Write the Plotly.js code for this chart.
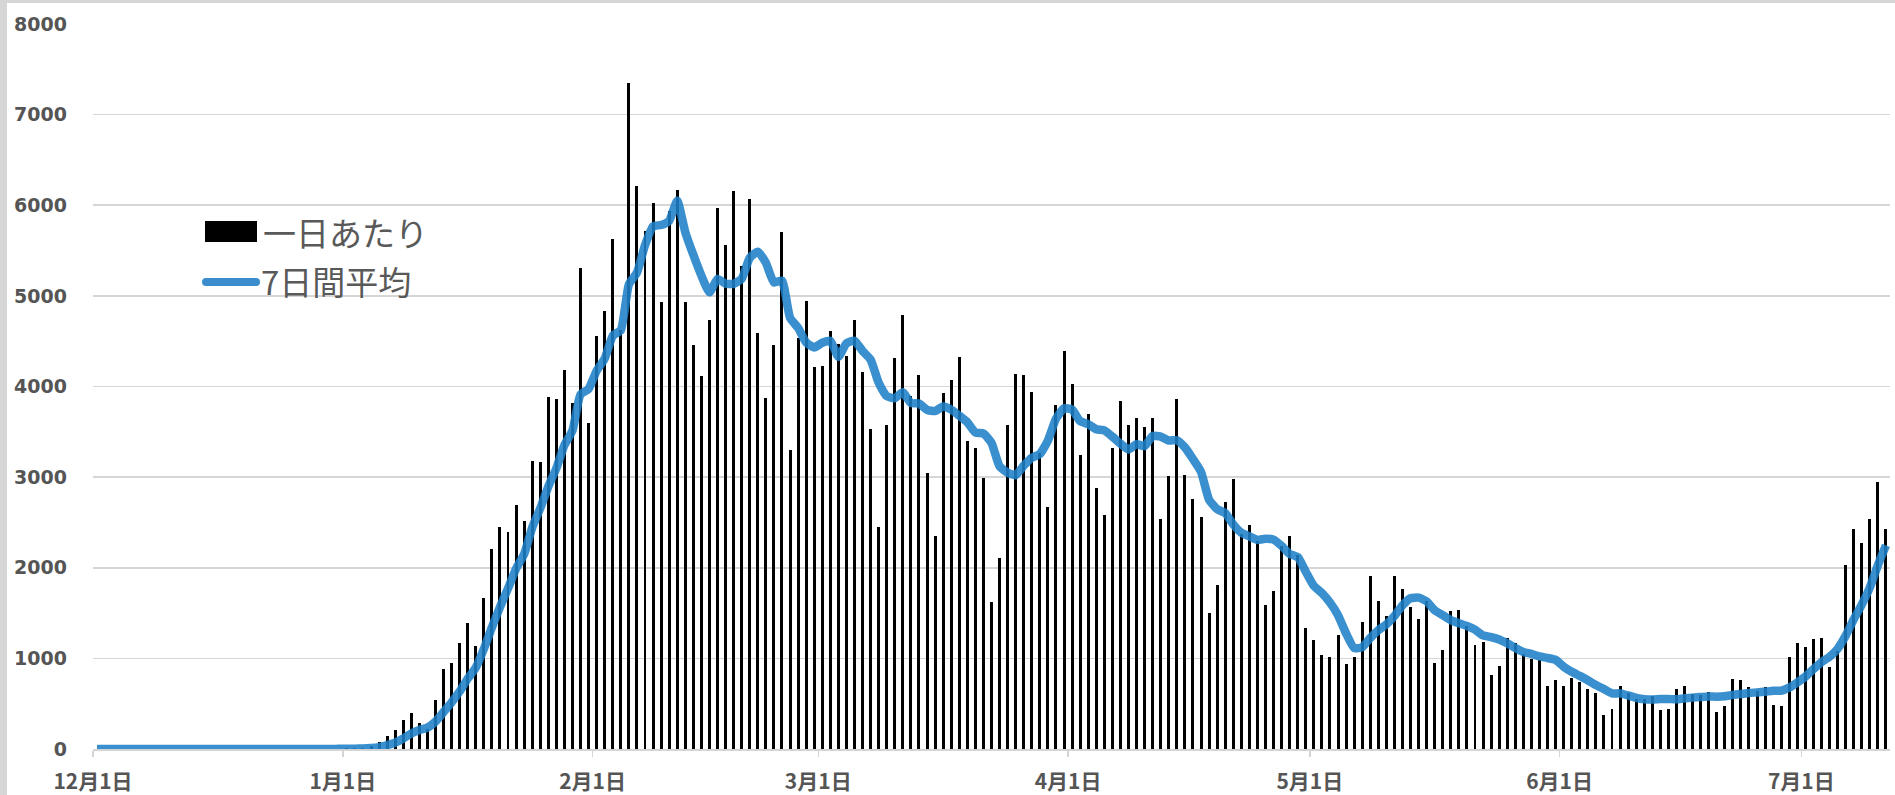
<!DOCTYPE html>
<html><head><meta charset="utf-8">
<script src="https://cdn.plot.ly/plotly-3.0.1.min.js"></script>
<style>
html,body{margin:0;padding:0;width:1895px;height:795px;overflow:hidden;background:#d6d6d6;}
#chart{position:absolute;left:7px;top:3px;width:1888px;height:792px;background:#fff;}
</style></head><body><div id="chart"></div>
<script>
// Daily counts (一日あたり), by month
const decDaily = [0,0,1,0,0,0,0,0,1,0,0,0,0,0,1,0,0,0,0,0,0,0,0,0,0,0,2,1,1,3,4];
const janDaily = [8,10,15,36,72,147,206,323,397,287,222,537,882,948,1169,1390,1132,1665,2206,2448,2397,2687,2518,3173,3165,3882,3864,4184,3816,5305,3598];
const febDaily = [4559,4829,5623,4622,7352,6210,5718,6021,4930,5940,6172,4931,4460,4111,4729,5974,5559,6162,5326,6071,4592,3868,4455,5701,3301,4536,4947,4212];
const marDaily = [4222,4612,4466,4339,4734,4162,3529,2445,3575,4313,4793,3900,4126,3050,2348,3926,4069,4327,3398,3320,2985,1625,2113,3573,4143,4126,3934,3268,2666,3799,4387];
const aprDaily = [4026,3241,3699,2876,2579,3320,3843,3573,3655,3551,3655,2536,3015,3862,3022,2757,2562,1500,1805,2724,2981,2375,2474,2290,1588,1746,2235,2353,2143,1334];
const mayDaily = [1198,1037,1015,1261,937,1015,1397,1911,1636,1470,1904,1768,1562,1437,1628,948,1095,1518,1529,1353,1150,1176,816,912,1224,1169,1051,993,985,695,765];
const junDaily = [695,779,739,658,614,379,437,695,618,551,551,581,430,437,665,695,607,599,629,408,471,772,765,684,640,684,485,471,1015,1169];
const julDaily = [1129,1213,1228,904,1084,2033,2430,2272,2536,2941,2426];

// 7-day average (7日間平均), by month
const decAvg = [0,0,0.1,0.1,0.1,0.1,0.1,0,0.1,0.1,0.1,0.1,0.1,0.1,0.3,0.1,0.1,0.1,0.1,0.1,0.1,0,0,0,0,0,0.3,0.4,0.6,1,1.6];
const janAvg = [2.7,4.1,6,11,21,42,71,116,171,210,236,303,408,514,635,776,897,1103,1342,1565,1772,1989,2150,2442,2656,2896,3098,3353,3515,3913,3973];
const febAvg = [4173,4308,4559,4622,5127,5256,5559,5768,5782,5828,6049,5703,5453,5224,5039,5188,5134,5132,5189,5419,5488,5365,5148,5168,4759,4646,4486,4431];
const marAvg = [4482,4504,4328,4476,4505,4392,4295,4041,3893,3871,3936,3817,3812,3743,3729,3779,3745,3678,3606,3491,3482,3379,3120,3049,3022,3126,3214,3255,3403,3644,3760];
const aprAvg = [3744,3617,3584,3528,3515,3447,3369,3304,3364,3342,3454,3448,3404,3407,3328,3200,3058,2751,2646,2605,2479,2386,2346,2307,2320,2311,2241,2152,2118,1956];
const mayAvg = [1800,1721,1616,1477,1275,1114,1123,1225,1310,1375,1467,1586,1664,1670,1629,1531,1477,1422,1388,1358,1317,1253,1234,1208,1166,1114,1071,1049,1021,1004,983];
const junAvg = [908,852,807,759,706,661,614,614,591,565,549,545,552,552,548,559,567,573,580,577,582,597,607,618,624,632,643,643,678,735];
const julAvg = [799,881,959,1018,1106,1251,1432,1595,1784,2029,2246];

// Axis ticks
const tickDates = ['2021-12-01','2022-01-01','2022-02-01','2022-03-01','2022-04-01','2022-05-01','2022-06-01','2022-07-01'];
const tickLabels = ['12月1日','1月1日','2月1日','3月1日','4月1日','5月1日','6月1日','7月1日'];
const seriesNames = ['一日あたり','7日間平均'];

const months = [
  [2021,12,decDaily,decAvg],[2022,1,janDaily,janAvg],[2022,2,febDaily,febAvg],[2022,3,marDaily,marAvg],
  [2022,4,aprDaily,aprAvg],[2022,5,mayDaily,mayAvg],[2022,6,junDaily,junAvg],[2022,7,julDaily,julAvg]
];
function pad(n){return String(n).padStart(2,'0');}
let xs=[], daily=[], avg=[];
months.forEach(([y,m,dv,av])=>{
  for(let d=1; d<=dv.length; d++) xs.push(y+'-'+pad(m)+'-'+pad(d));
  daily = daily.concat(dv); avg = avg.concat(av);
});

const DAY = 86400000;
const traces = [
  {type:'bar', name:seriesNames[0], x:xs, y:daily, xperiod:DAY, xperiodalignment:'middle',
   width:0.37*DAY, marker:{color:'#000000', line:{width:0}}, hoverinfo:'x+y'},
  {type:'scatter', mode:'lines', name:seriesNames[1], x:xs, y:avg, xperiod:DAY, xperiodalignment:'middle',
   line:{color:'rgba(31,127,199,0.88)', width:8.5, shape:'spline', smoothing:0.5}}
];

// plot area in page px: x 93..1890, y 24..749
const PX0=93, PW=1797, PY1=749, PH=725;
const px = v => (v-PX0)/PW, py = v => (PY1-v)/PH;
const blue = 'rgb(58,142,206)';
const layout = {
  width:1888, height:792,
  margin:{l:86, r:5, t:21, b:46, pad:0},
  paper_bgcolor:'#ffffff', plot_bgcolor:'#ffffff',
  showlegend:false, bargap:0,
  xaxis:{type:'date', range:['2021-12-01','2022-07-12'], tickmode:'array', tickvals:tickDates, ticktext:tickLabels,
    ticks:'outside', ticklen:6, tickwidth:1.5, tickcolor:'#d4d4d4', showline:true, linecolor:'#d4d4d4', linewidth:1.8,
    showgrid:false, zeroline:false, ticklabelstandoff:7,
    tickfont:{family:'Noto Sans CJK JP', size:21, color:'#555555', weight:'bold'}},
  yaxis:{range:[0,8000], tick0:0, dtick:1000, showgrid:true, gridcolor:'#d6d6d6', gridwidth:1.6,
    zeroline:false, showline:false, ticks:'', ticklabelstandoff:25,
    tickfont:{family:'DejaVu Sans', size:19, color:'#555555', weight:'bold'}},
  shapes:[
    {type:'rect', xref:'paper', yref:'paper', x0:px(205), x1:px(257), y0:py(242), y1:py(221), fillcolor:'#000', line:{width:0}},
    {type:'line', xref:'paper', yref:'paper', x0:px(206), x1:px(256), y0:py(282), y1:py(282), line:{color:blue, width:8}},
    {type:'circle', xref:'paper', yref:'paper', xsizemode:'pixel', ysizemode:'pixel', xanchor:px(206), yanchor:py(282), x0:-4, x1:4, y0:-4, y1:4, fillcolor:blue, line:{width:0}},
    {type:'circle', xref:'paper', yref:'paper', xsizemode:'pixel', ysizemode:'pixel', xanchor:px(256), yanchor:py(282), x0:-4, x1:4, y0:-4, y1:4, fillcolor:blue, line:{width:0}}
  ],
  annotations:[
    {xref:'paper', yref:'paper', x:px(261), y:py(232), xanchor:'left', yanchor:'middle', showarrow:false, text:seriesNames[0],
     font:{family:'Noto Sans CJK JP', size:33, color:'#595959'}},
    {xref:'paper', yref:'paper', x:px(259), y:py(281), xanchor:'left', yanchor:'middle', showarrow:false, text:seriesNames[1],
     font:{family:'Noto Sans CJK JP', size:33, color:'#595959'}}
  ]
};
Plotly.newPlot('chart', traces, layout, {displayModeBar:false, staticPlot:true});
</script></body></html>
